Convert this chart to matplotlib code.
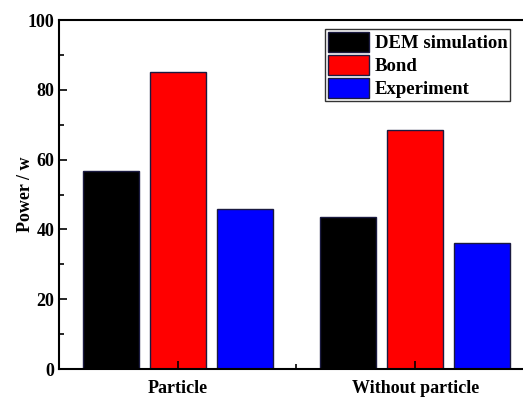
import matplotlib
matplotlib.use('Agg')
import matplotlib.pyplot as plt
from matplotlib.ticker import MultipleLocator, FixedLocator
import numpy as np

plt.rcParams['font.family'] = 'Liberation Serif'
plt.rcParams['font.weight'] = 'bold'

categories = ['Particle', 'Without particle']
dem = [56.7, 43.5]
bond = [85.1, 68.4]
experiment = [45.8, 36.0]
series_names = ['DEM simulation', 'Bond', 'Experiment']
colors = ['#000000', '#ff0000', '#0000ff']

fig = plt.figure(figsize=(5.23, 4.01), dpi=100)
# the original is cropped on the right, so the axes run to the figure edge
ax = fig.add_axes([0.1128, 0.0798, 0.8872, 0.870])

x = np.arange(1, len(categories) + 1)
w = 0.236
step = 0.282
for i, (vals, name, c) in enumerate(zip([dem, bond, experiment], series_names, colors)):
    ax.bar(x + (i - 1) * step, vals, w, color=c, edgecolor='#1a1a40', linewidth=1.0, label=name)

ax.set_xlim(0.5, 2.454)
ax.set_ylim(0, 100)
ax.set_xticks(x)
ax.set_xticklabels(categories, fontsize=13, fontweight='bold')
ax.xaxis.set_minor_locator(FixedLocator([1.5]))
ax.yaxis.set_major_locator(MultipleLocator(20))
ax.yaxis.set_minor_locator(MultipleLocator(10))
ax.tick_params(which='both', direction='in', width=1.2, right=False)
ax.tick_params(which='major', length=6, labelsize=13)
ax.tick_params(which='minor', length=3.5)
ax.tick_params(axis='x', pad=8)
for lab in ax.get_yticklabels():
    lab.set_fontweight('bold')
for s in ax.spines.values():
    s.set_linewidth(1.5)
ax.spines['right'].set_visible(False)
ax.set_ylabel('Power / w', fontsize=13, fontweight='bold', labelpad=-5)

leg = ax.legend(loc='upper left', bbox_to_anchor=(0.573, 0.975), fontsize=13.5,
                frameon=True, fancybox=False, edgecolor='black', handlelength=2.2,
                handleheight=1.31, labelspacing=0.13, handletextpad=0.3, borderpad=0.15,
                borderaxespad=0)
leg.get_frame().set_linewidth(1.0)
for t in leg.get_texts():
    t.set_fontweight('bold')

fig.savefig('out.png', dpi=100)
